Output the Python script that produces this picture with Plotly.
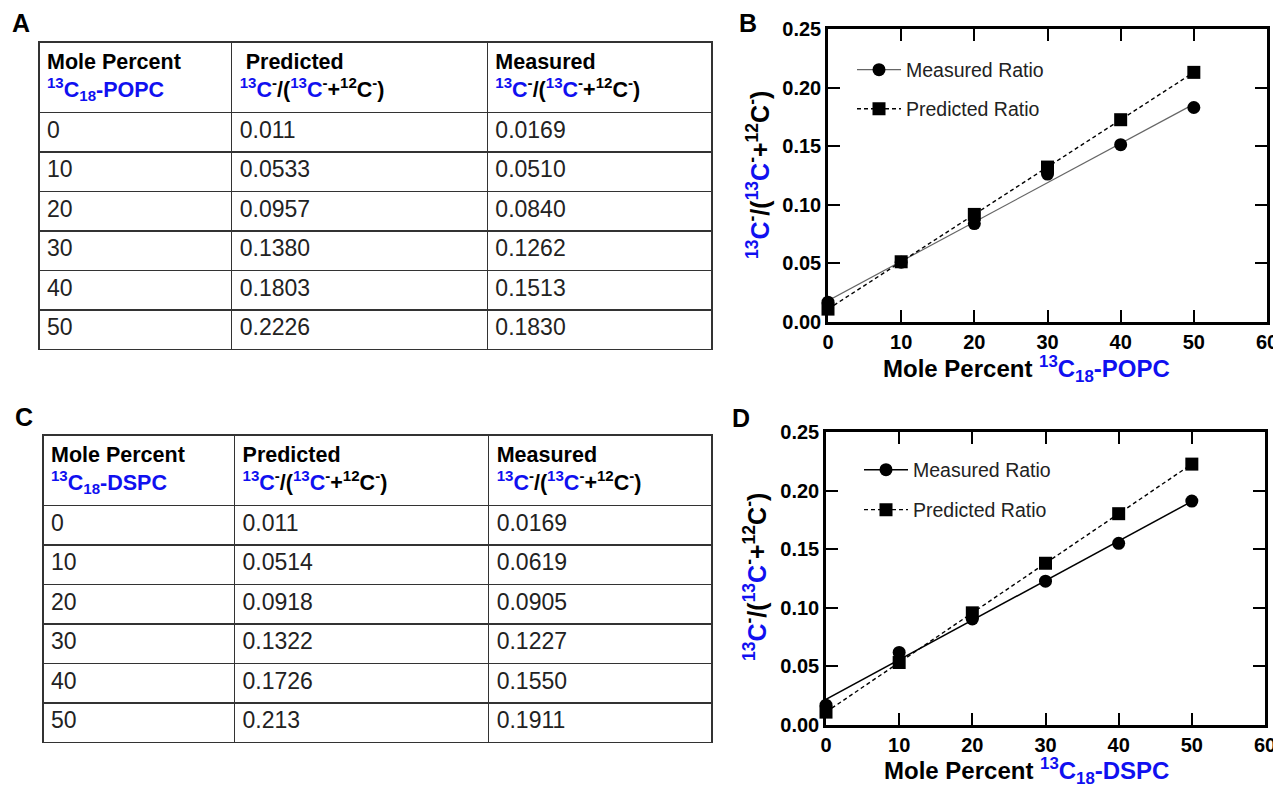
import numpy as np
import plotly.graph_objects as go

# ---------------- data ----------------
mole_percent = [0, 10, 20, 30, 40, 50]
mole_labels = ["0", "10", "20", "30", "40", "50"]

# table A (POPC)
popc_predicted_txt = ["0.011", "0.0533", "0.0957", "0.1380", "0.1803", "0.2226"]
popc_measured_txt = ["0.0169", "0.0510", "0.0840", "0.1262", "0.1513", "0.1830"]
# table C (DSPC)
dspc_predicted_txt = ["0.011", "0.0514", "0.0918", "0.1322", "0.1726", "0.213"]
dspc_measured_txt = ["0.0169", "0.0619", "0.0905", "0.1227", "0.1550", "0.1911"]

b_measured = [0.0169, 0.0510, 0.0840, 0.1262, 0.1513, 0.1830]
b_predicted = [0.011, 0.0514, 0.0918, 0.1322, 0.1726, 0.213]
d_measured = [0.0169, 0.0619, 0.0905, 0.1227, 0.1550, 0.1911]
d_predicted = [0.011, 0.0533, 0.0957, 0.1380, 0.1803, 0.2226]

x_ticks = [0, 10, 20, 30, 40, 50, 60]
y_ticks = [0.00, 0.05, 0.10, 0.15, 0.20, 0.25]

# ---------------- style ----------------
W, H = 1281, 787
OFF = 8  # page body margin
BLUE = "#1010f0"
FONT = "Arial, 'Liberation Sans', sans-serif"


def px_x(p):
    return (p - OFF) / W


def px_y(p):
    return 1 - (p - OFF) / H


def blue(s):
    return f"<span style='color:{BLUE}'>{s}</span>"


ratio_txt = (blue("<sup>13</sup>C") + "<sup>-</sup>/(" + blue("<sup>13</sup>C")
             + "<sup>-</sup>+<sup>12</sup>C<sup>-</sup>)")

fig = go.Figure()


def add_table(top, left, right, lipid, pred, meas, pred_lead):
    header = [
        "<b>Mole Percent</b><br><b>" + blue("<sup>13</sup>C<sub>18</sub>-" + lipid) + "</b>",
        "<b>" + pred_lead + "Predicted</b><br><b>" + ratio_txt + "</b>",
        "<b>Measured</b><br><b>" + ratio_txt + "</b>",
    ]
    fig.add_trace(go.Table(
        domain=dict(x=[px_x(left), px_x(right)], y=[px_y(top + 68 + 6 * 39.5 + 6), px_y(top)]),
        columnwidth=[193, 256, 225],
        header=dict(values=header, height=68, align="left",
                    line=dict(color="#333333", width=1.5), fill=dict(color="white"),
                    font=dict(family=FONT, size=21.5, color="black")),
        cells=dict(values=[mole_labels, pred, meas], height=39.5, align="left",
                   line=dict(color="#333333", width=1.5), fill=dict(color="white"),
                   font=dict(family=FONT, size=23, color="#222222")),
    ))


add_table(42, 39, 713, "POPC", popc_predicted_txt, popc_measured_txt, "\u00a0")
add_table(435, 43, 713, "DSPC", dspc_predicted_txt, dspc_measured_txt, "")

DASH = "4px,3px"


def add_graph(xa, ya, legs, meas, pred, meas_line_color, meas_w):
    x = np.array(mole_percent, dtype=float)
    for vals, sym, dash, col, lw, name, leg in [
        (meas, "circle", "solid", meas_line_color, meas_w, "Measured Ratio", legs[0]),
        (pred, "square", DASH, "black", 1.4, "Predicted Ratio", legs[1]),
    ]:
        k, b = np.polyfit(x, np.array(vals), 1)
        fig.add_trace(go.Scatter(x=x, y=k * x + b, mode="lines", xaxis=xa, yaxis=ya,
                                 line=dict(color=col, width=lw, dash=dash),
                                 showlegend=False, hoverinfo="skip"))
        fig.add_trace(go.Scatter(x=x, y=vals, mode="markers", xaxis=xa, yaxis=ya,
                                 marker=dict(symbol=sym, size=13, color="black"),
                                 cliponaxis=False, showlegend=False, name=name))
        fig.add_trace(go.Scatter(x=[None], y=[None], mode="lines+markers", xaxis=xa, yaxis=ya,
                                 line=dict(color=col, width=lw, dash=dash),
                                 marker=dict(symbol=sym, size=13, color="black"),
                                 name=name, legend=leg, showlegend=True))


add_graph("x", "y", ["legend", "legend2"], b_measured, b_predicted, "#666666", 1.2)
add_graph("x2", "y2", ["legend3", "legend4"], d_measured, d_predicted, "black", 1.5)

axis_common = dict(showline=True, linewidth=2.5, linecolor="black", mirror="ticks",
                   ticks="inside", ticklen=12, tickwidth=2, tickcolor="black",
                   showgrid=False, zeroline=False, automargin=False,
                   tickfont=dict(family=FONT, size=20, color="black", weight="bold"))

fig.update_layout(
    width=W, height=H, margin=dict(l=0, r=0, t=0, b=0, pad=0, autoexpand=False),
    paper_bgcolor="white", plot_bgcolor="white",
    font=dict(family=FONT),
    xaxis=dict(domain=[px_x(828), px_x(1267)], range=[0, 60], tickvals=x_ticks,
               anchor="y", **axis_common),
    yaxis=dict(domain=[px_y(322), px_y(29)], range=[0, 0.25], tickvals=y_ticks,
               tickformat=".2f", anchor="x", **axis_common),
    xaxis2=dict(domain=[px_x(826), px_x(1265)], range=[0, 60], tickvals=x_ticks,
                anchor="y2", **axis_common),
    yaxis2=dict(domain=[px_y(725), px_y(432)], range=[0, 0.25], tickvals=y_ticks,
                tickformat=".2f", anchor="x2", **axis_common),
)

leg_common = dict(xanchor="left", yanchor="middle", itemwidth=44, bgcolor="rgba(0,0,0,0)",
                  font=dict(family=FONT, size=19.5, color="#222222"))
fig.update_layout(
    legend=dict(x=px_x(852), y=px_y(70), **leg_common),
    legend2=dict(x=px_x(852), y=px_y(109), **leg_common),
    legend3=dict(x=px_x(859), y=px_y(470), **leg_common),
    legend4=dict(x=px_x(859), y=px_y(510), **leg_common),
)

annotations = [
    dict(text="<b>A</b>", x=px_x(21), y=px_y(23)),
    dict(text="<b>B</b>", x=px_x(748), y=px_y(23)),
    dict(text="<b>C</b>", x=px_x(24), y=px_y(417)),
    dict(text="<b>D</b>", x=px_x(741), y=px_y(418)),
]
for a in annotations:
    fig.add_annotation(xref="paper", yref="paper", showarrow=False, xanchor="center",
                       yanchor="middle", font=dict(family=FONT, size=25, color="black"), **a)

# axis titles
for lipid, xc, yc in [("POPC", 1026, 369), ("DSPC", 1026, 771)]:
    fig.add_annotation(xref="paper", yref="paper", x=px_x(xc), y=px_y(yc), showarrow=False,
                       xanchor="center", yanchor="middle",
                       text="<b>Mole Percent " + blue("<sup>13</sup>C<sub>18</sub>-" + lipid) + "</b>",
                       font=dict(family=FONT, size=24, color="black"))
for xc, yc in [(758, 175), (755, 577)]:
    fig.add_annotation(xref="paper", yref="paper", x=px_x(xc), y=px_y(yc), showarrow=False,
                       xanchor="center", yanchor="middle", textangle=-90,
                       text="<b>" + ratio_txt + "</b>",
                       font=dict(family=FONT, size=25, color="black"))

fig.write_html("out.html")
